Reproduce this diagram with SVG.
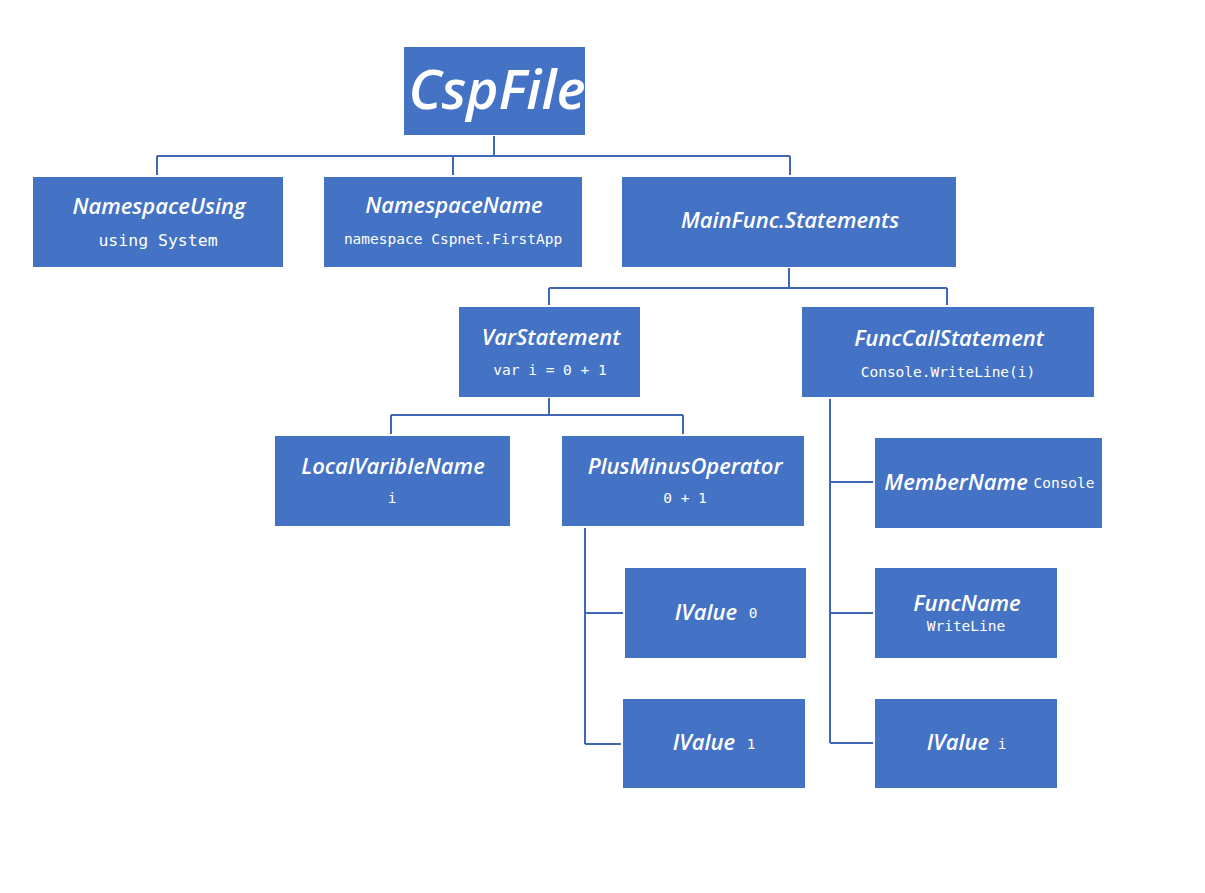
<svg xmlns="http://www.w3.org/2000/svg" width="1205" height="893" viewBox="0 0 1205 893">
<style>
.box{fill:#4472C4}
.t{font-family:"Open Sans","Liberation Sans",sans-serif;font-style:italic;font-weight:600;font-size:22px;fill:#fff;text-anchor:middle}
.m{font-family:"DejaVu Sans Mono","Liberation Mono",monospace;font-size:14.5px;fill:#fff;text-anchor:middle}
.ln{stroke:#3F67B3;stroke-width:2;fill:none}
</style>
<rect width="1205" height="893" fill="#fff"/>
<g id="connectors">
<path class="ln" d="M494 136V156M157 156H790M157 156V175M453 156V175M790 156V175"/>
<path class="ln" d="M789 268V288M549 288H947M549 288V305M947 288V305"/>
<path class="ln" d="M549 398V415M391 415H683M391 415V434M683 415V434"/>
<path class="ln" d="M585 528V744M585 613H623M585 744H621"/>
<path class="ln" d="M830 399V743M830 482H873M830 613H873M830 743H873"/>
</g>
<g id="CspFile"><rect class="box" x="404" y="47" width="181" height="88"/><text class="t" x="497" y="109" style="font-size:55px">CspFile</text></g>
<g id="NamespaceUsing"><rect class="box" x="33" y="177" width="250" height="90"/><text class="t" x="159" y="214">NamespaceUsing</text><text class="m" x="158" y="246" style="font-size:16.5px">using System</text></g>
<g id="NamespaceName"><rect class="box" x="324" y="177" width="258" height="90"/><text class="t" x="454" y="213">NamespaceName</text><text class="m" x="453" y="244">namespace Cspnet.FirstApp</text></g>
<g id="MainFuncStatements"><rect class="box" x="622" y="177" width="334" height="90"/><text class="t" x="790" y="228">MainFunc.Statements</text></g>
<g id="VarStatement"><rect class="box" x="459" y="307" width="181" height="90"/><text class="t" x="551" y="345">VarStatement</text><text class="m" x="550" y="375">var i = 0 + 1</text></g>
<g id="FuncCallStatement"><rect class="box" x="802" y="307" width="292" height="90"/><text class="t" x="949" y="346">FuncCallStatement</text><text class="m" x="948" y="377">Console.WriteLine(i)</text></g>
<g id="LocalVaribleName"><rect class="box" x="275" y="436" width="235" height="90"/><text class="t" x="393" y="474">LocalVaribleName</text><text class="m" x="392" y="503">i</text></g>
<g id="PlusMinusOperator"><rect class="box" x="562" y="436" width="242" height="90"/><text class="t" x="685" y="474">PlusMinusOperator</text><text class="m" x="685" y="503">0 + 1</text></g>
<g id="IValue0"><rect class="box" x="625" y="568" width="181" height="90"/><text class="t" x="706" y="620">IValue</text><text class="m" x="753" y="618">0</text></g>
<g id="IValue1"><rect class="box" x="623" y="699" width="182" height="89"/><text class="t" x="704" y="750">IValue</text><text class="m" x="751" y="749">1</text></g>
<g id="MemberName"><rect class="box" x="875" y="438" width="227" height="90"/><text class="t" x="956" y="490">MemberName</text><text class="m" x="1064" y="488">Console</text></g>
<g id="FuncName"><rect class="box" x="875" y="568" width="182" height="90"/><text class="t" x="967" y="611">FuncName</text><text class="m" x="966" y="631">WriteLine</text></g>
<g id="IValuei"><rect class="box" x="875" y="699" width="182" height="89"/><text class="t" x="958" y="750">IValue</text><text class="m" x="1002" y="749">i</text></g>
</svg>
